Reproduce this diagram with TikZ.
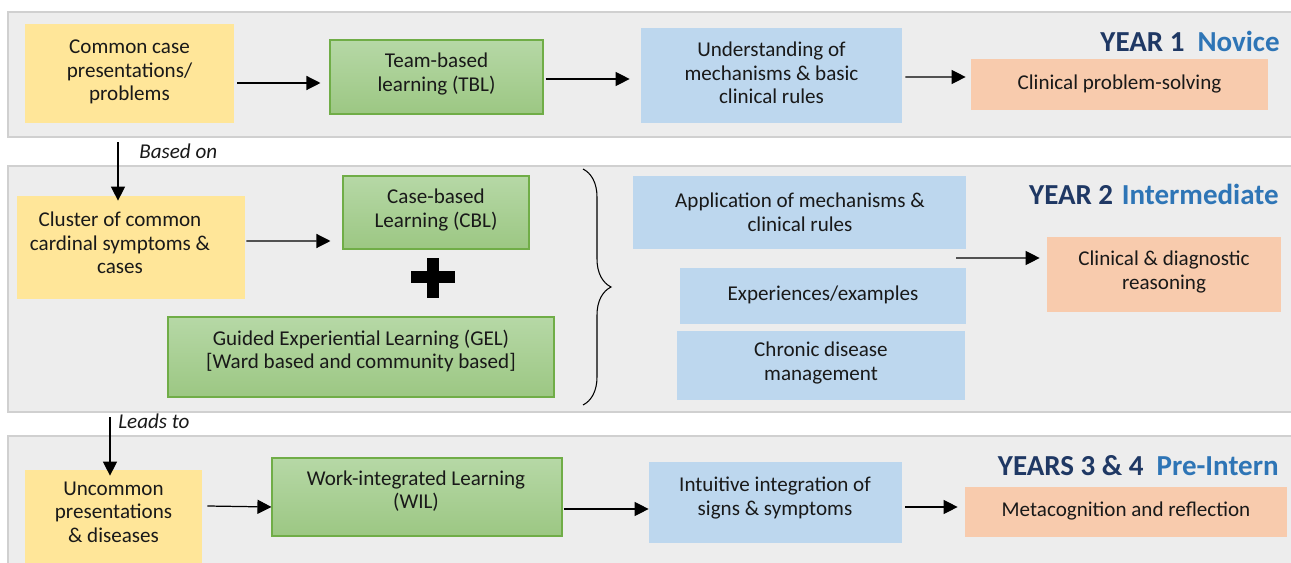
\documentclass[tikz,border=0pt]{standalone}
\usepackage{fontspec}
\setmainfont{Carlito}
\usetikzlibrary{arrows.meta,fit,decorations.pathreplacing}
\definecolor{panelfill}{HTML}{EDEDED}
\definecolor{paneldraw}{HTML}{D0D0D0}
\definecolor{yel}{HTML}{FFE699}
\definecolor{blu}{HTML}{BDD7EE}
\definecolor{ora}{HTML}{F8CBAD}
\definecolor{grtop}{HTML}{B6D8A6}
\definecolor{grbot}{HTML}{9CC783}
\definecolor{grdraw}{HTML}{70AD47}
\definecolor{navy}{HTML}{1F3864}
\definecolor{lblue}{HTML}{2E75B6}
\begin{document}
\begin{tikzpicture}[x=0.02cm,y=-0.02cm,
  panel/.style={draw=paneldraw, fill=panelfill, line width=1.2pt},
  box/.style={inner sep=0pt},
  ybox/.style={box, fill=yel},
  bbox/.style={box, fill=blu},
  obox/.style={box, fill=ora},
  gbox/.style={box, draw=grdraw, line width=0.6pt, top color=grtop, bottom color=grbot},
  txt/.style={inner sep=0pt, align=center, font=\fontsize{12}{13.4}\selectfont, text=black!90},
  arr/.style={-{Triangle[length=8pt,width=8pt]}, line width=0.7pt},
  lab/.style={font=\fontsize{12}{13.4}\selectfont\itshape, inner sep=0pt, text=black!90},
  yr/.style={font=\fontsize{16.5}{20}\selectfont\bfseries, inner sep=0pt, anchor=base east}
]
\useasboundingbox (0,0) rectangle (1291,563);
% panels
\draw[panel] (8,12) rectangle (1298,137);
\draw[panel] (8,166) rectangle (1298,412);
\draw[panel] (8,436) rectangle (1298,580);

% Year 1
\node[ybox, fit={(25,24)(234,123)}] (y1) {};
\node[txt] (y1t) at (129.5,72) {Common case\\presentations/\\problems};
\node[gbox, fit={(330,40)(543,114)}] (t1) {};
\node[txt] (t1t) at (436.5,74) {Team-based\\learning (TBL)};
\node[bbox, fit={(641,28)(902,123)}] (u1) {};
\node[txt] (u1t) at (771.5,73) {Understanding of\\mechanisms \& basic\\clinical rules};
\node[obox, fit={(971,59)(1268,110)}] (c1) {};
\node[txt] (c1t) at (1119.5,84) {Clinical problem-solving};
\node[yr] (yr1) at (1280,52) {\textcolor{navy}{YEAR 1}\hspace{0.45em}\textcolor{lblue}{Novice}};
\draw[arr] ([shift={(3,9.5)}]y1.east) -- ([shift={(-9,6)}]t1.west);
\draw[arr] ([shift={(2,2)}]t1.east) -- ([shift={(-11,3.5)}]u1.west);
\draw[arr] ([shift={(3,1.5)}]u1.east) -- ([shift={(-5,-7.5)}]c1.west);

% Year 2
\node[ybox, fit={(17,196)(245,299)}] (y2) {};
\node[txt] (y2t) at (120,243) {Cluster of common\\cardinal symptoms \&\\cases};
\node[gbox, fit={(343,176)(529,249)}] (cbl) {};
\node[txt] (cblt) at (436,210) {Case-based\\Learning (CBL)};
\node[gbox, fit={(168,317)(554,397)}] (gel) {};
\node[txt] (gelt) at (361,351) {Guided Experiential Learning (GEL)\\{[}Ward based and community based{]}};
\fill (411,271) rectangle (455,283);
\fill (427,258) rectangle (439,298);
\draw[decorate, decoration={brace, amplitude=0.56cm}, line width=0.6pt] (583,169) -- (583,405);
\node[bbox, fit={(633,176)(966,249)}] (app) {};
\node[txt] (appt) at (800,212) {Application of mechanisms \&\\clinical rules};
\node[bbox, fit={(680,268)(966,324)}] (exp) {};
\node[txt] (expt) at (823,295) {Experiences/examples};
\node[bbox, fit={(677,331)(965,400)}] (chr) {};
\node[txt] (chrt) at (821,363) {Chronic disease\\management};
\node[obox, fit={(1047,237)(1281,312)}] (c2) {};
\node[txt] (c2t) at (1164,272) {Clinical \& diagnostic\\reasoning};
\node[yr] (yr2) at (1279,205) {\textcolor{navy}{YEAR 2}\hspace{0.3em}\textcolor{lblue}{Intermediate}};
\coordinate (s2) at (956,258);
\draw[arr] ([shift={(-11.5,19)}]y1.south) -- ([shift={(-13,5)}]y2.north);
\node[lab, anchor=base west] (bo) at (139,159) {Based on};
\draw[arr] ([shift={(1,-6.5)}]y2.east) -- ([shift={(-12,28.5)}]cbl.west);
\draw[arr] (s2) -- ([shift={(-7,-16.5)}]c2.west);

% Years 3 & 4
\node[ybox, fit={(25,470)(202,566)}] (y3) {};
\node[txt] (y3t) at (113.5,512) {Uncommon\\presentations\\\& diseases};
\node[gbox, fit={(272,458)(562,536)}] (wil) {};
\node[txt] (wilt) at (416,491) {Work-integrated Learning\\(WIL)};
\node[bbox, fit={(649,462)(902,543)}] (b3) {};
\node[txt] (b3t) at (775,498) {Intuitive integration of\\signs \& symptoms};
\node[obox, fit={(965,487)(1287,537)}] (m3) {};
\node[txt] (m3t) at (1126,511) {Metacognition and reflection};
\node[yr] (yr3) at (1279,476) {\textcolor{navy}{YEARS 3 \& 4}\hspace{0.45em}\textcolor{lblue}{Pre-Intern}};
\coordinate (lt) at (110,417);
\draw[arr] (lt) -- ([shift={(-3.5,6)}]y3.north);
\node[lab, anchor=base west] (lto) at (118,429) {Leads to};
\draw[arr] ([shift={(5,-12)}]y3.east) -- ([shift={(0,10)}]wil.west);
\draw[arr] ([shift={(1,12)}]wil.east) -- ([shift={(0,6.5)}]b3.west);
\draw[arr] ([shift={(3,4.5)}]b3.east) -- ([shift={(-7,-5)}]m3.west);
\end{tikzpicture}
\end{document}
